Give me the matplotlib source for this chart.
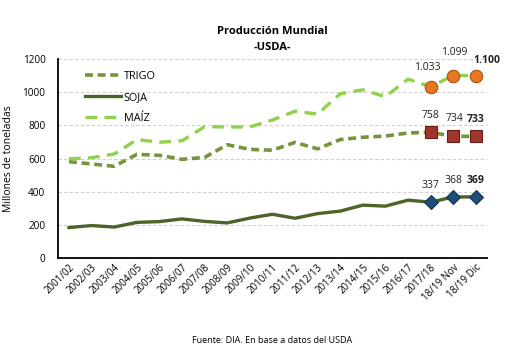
import matplotlib.pyplot as plt

plt.rc('font', family='Open Sans')

campanas = ["2001/02", "2002/03", "2003/04", "2004/05", "2005/06", "2006/07", "2007/08",
            "2008/09", "2009/10", "2010/11", "2011/12", "2012/13", "2013/14", "2014/15",
            "2015/16", "2016/17", "2017/18", "18/19 Nov", "18/19 Dic"]
trigo = [581, 567, 553, 625, 619, 595, 607, 683, 655, 650, 697, 658, 714, 728, 735, 754, 758, 734, 733]
soja = [184, 196, 187, 215, 220, 236, 221, 212, 241, 264, 240, 268, 283, 319, 313, 349, 337, 368, 369]
maiz = [598, 605, 627, 714, 698, 707, 792, 790, 790, 832, 885, 868, 990, 1014, 972, 1078, 1033, 1099, 1100]

C_TRIGO = "#77933C"
C_SOJA = "#4F6228"
C_MAIZ = "#92D050"

fig = plt.figure(figsize=(5.13, 3.55), dpi=100)
ax = fig.add_axes([0.113, 0.273, 0.836, 0.561])

x = list(range(len(campanas)))
ax.plot(x, trigo, color=C_TRIGO, lw=2.6, ls=(0, (2.2, 1.3)), label="TRIGO", zorder=3)
ax.plot(x, soja, color=C_SOJA, lw=2.4, label="SOJA", zorder=3)
ax.plot(x, maiz, color=C_MAIZ, lw=2.4, ls=(0, (3.5, 2.2)), label="MAÍZ", zorder=3)

# marcadores de las últimas tres campañas
ult = x[-3:]
ax.plot(ult, maiz[-3:], ls="none", marker="o", ms=9, mfc="#E87722", mec="#A85510", mew=0.8, zorder=4)
ax.plot(ult, trigo[-3:], ls="none", marker="s", ms=8, mfc="#A0352E", mec="#6A1E18", mew=0.8, zorder=4)
ax.plot(ult, soja[-3:], ls="none", marker="D", ms=7, mfc="#1F4E79", mec="#16375A", mew=0.8, zorder=4)

def fmt(v):
    return f"{v:,}".replace(",", ".")

# desplazamientos de etiquetas (puntos) como en el original
offsets = {
    "maiz": [(-2, 10), (1, 13), (8, 7)],
    "trigo": [(0, 8), (1, 9), (0, 8)],
    "soja": [(0, 8), (0, 8), (0, 8)],
}
for nombre, serie in (("maiz", maiz), ("trigo", trigo), ("soja", soja)):
    for i, xi in enumerate(ult):
        v = serie[-3 + i]
        ax.annotate(fmt(v), (xi, v), xytext=offsets[nombre][i], textcoords="offset points",
                    ha="center", va="bottom", fontsize=7.5, color="#222222",
                    fontweight="bold" if i == 2 else "normal")

ax.set_ylim(0, 1200)
ax.set_xlim(-0.49, len(campanas) - 0.51)
ax.set_yticks(range(0, 1201, 200))
ax.set_xticks(x)
ax.set_xticklabels(campanas, rotation=45, ha="right", rotation_mode="anchor", fontsize=7)
ax.tick_params(axis="y", labelsize=7.2, length=0, pad=9)
ax.tick_params(axis="x", length=0, pad=3)
ax.grid(axis="y", color="#D0D0D0", ls=(0, (3, 2)), lw=0.8)
ax.set_axisbelow(True)
for s in ("top", "right"):
    ax.spines[s].set_visible(False)
ax.spines["left"].set_linewidth(1.3)
ax.spines["bottom"].set_linewidth(1.3)
ax.set_ylabel("Millones de toneladas", fontsize=7.5, labelpad=6)

ax.legend(loc="upper left", bbox_to_anchor=(0.04, 0.99), frameon=False, fontsize=7.8,
          handlelength=3.3, handletextpad=0.3, labelspacing=0.95)

fig.text(0.53, 0.905, "Producción Mundial", ha="center", fontsize=8, fontweight="bold")
fig.text(0.53, 0.858, "-USDA-", ha="center", fontsize=8, fontweight="bold")
fig.text(0.53, 0.035, "Fuente: DIA. En base a datos del USDA", ha="center", fontsize=6.5)

fig.savefig("out.png", dpi=100)
